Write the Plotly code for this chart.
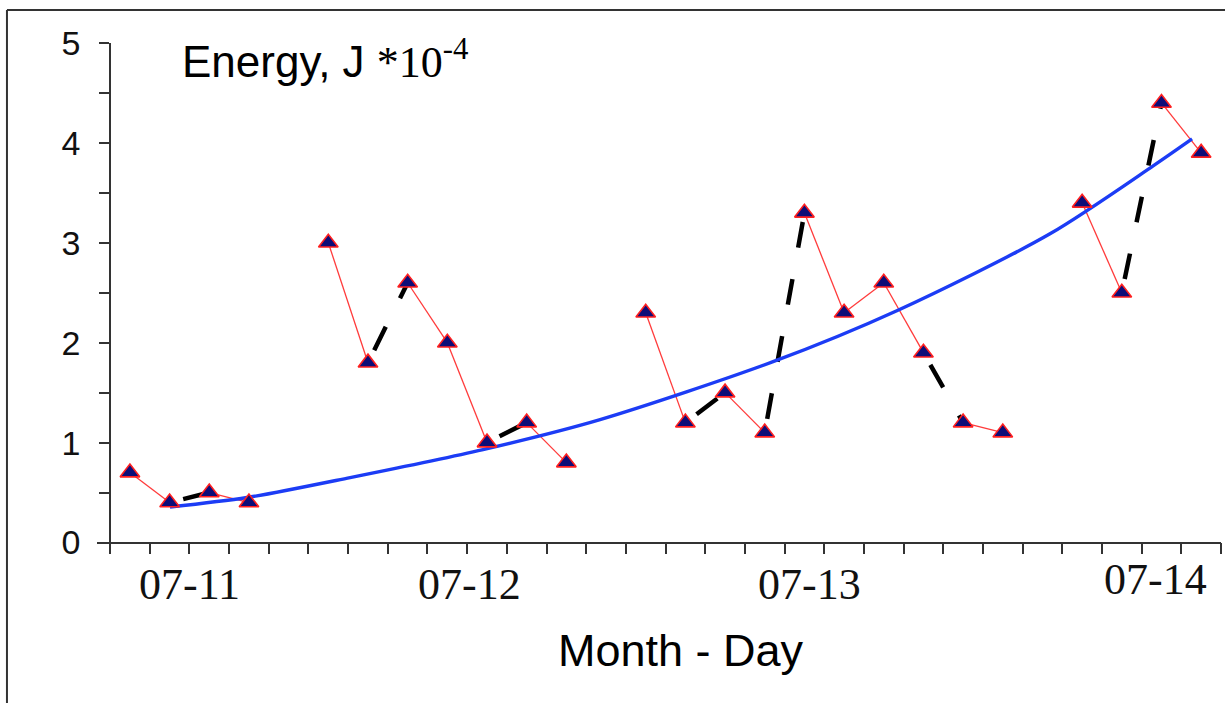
import plotly.graph_objects as go

# ---- data (x in 3-hour slot index along the time axis) ----
slot_x = [0.5, 1.5, 2.5, 3.5, 5.5, 6.5, 7.5, 8.5, 9.5, 10.5, 11.5, 13.5, 14.5,
          15.5, 16.5, 17.5, 18.5, 19.5, 20.5, 21.5, 22.5, 24.5, 25.5, 26.5, 27.5]
energy = [0.7, 0.4, 0.5, 0.4, 3.0, 1.8, 2.6, 2.0, 1.0, 1.2, 0.8, 2.3, 1.2,
          1.5, 1.1, 3.3, 2.3, 2.6, 1.9, 1.2, 1.1, 3.4, 2.5, 4.4, 3.9]
# link style between consecutive points: r = thin red, k = black dashed, - = none
link_style = ["r", "k", "r", "-", "r", "k", "r", "r", "k", "r", "-", "r",
              "k", "r", "k", "r", "r", "r", "k", "r", "-", "r", "k", "r"]
# trend curve
trend_x = [1.51, 3.45, 6.05, 9.40, 12.35, 16.71, 19.83, 23.69, 26.29, 27.27]
trend_y = [0.355, 0.45, 0.65, 0.93, 1.23, 1.81, 2.32, 3.09, 3.77, 4.04]

day_labels = ["07-11", "07-12", "07-13", "07-14"]
day_label_x = [1.99, 9.07, 17.64, 26.36]
day_label_lift = [0.0, 0.0, 0.0, 0.01]
x_ticks = list(range(29))
y_ticks = [0, 1, 2, 3, 4, 5]

SANS = "Liberation Sans, Arial, sans-serif"
SERIF = "Liberation Serif, Times New Roman, serif"


def segments(kind):
    xs, ys = [], []
    for i, s in enumerate(link_style):
        if s == kind:
            xs += [slot_x[i], slot_x[i + 1], None]
            ys += [energy[i], energy[i + 1], None]
    return xs, ys


fig = go.Figure()
rx, ry = segments("r")
fig.add_trace(go.Scatter(x=rx, y=ry, mode="lines",
                         line=dict(color="#ff3b3b", width=1.3),
                         hoverinfo="skip", showlegend=False))
kx, ky = segments("k")
fig.add_trace(go.Scatter(x=kx, y=ky, mode="lines",
                         line=dict(color="black", width=4.5, dash="0px,14px,26px,18px"),
                         hoverinfo="skip", showlegend=False))
fig.add_trace(go.Scatter(x=trend_x, y=trend_y, mode="lines",
                         line=dict(color="#1c3cf5", width=3.4, shape="spline", smoothing=0.8),
                         showlegend=False))
fig.add_trace(go.Scatter(x=slot_x, y=energy, mode="markers",
                         marker=dict(symbol="triangle-up", size=17, color="#0d0d78",
                                     line=dict(color="#ff2020", width=1.6)),
                         showlegend=False))

XR = [-0.33, 28.0]
YR = [-0.075, 5.0]

fig.update_layout(
    width=1225, height=703,
    margin=dict(l=97, r=4, t=43, b=153),
    paper_bgcolor="white", plot_bgcolor="white",
    xaxis=dict(range=XR, showgrid=False, zeroline=False, showline=True,
               linecolor="#333", linewidth=1.8, anchor="free",
               position=(0 - YR[0]) / (YR[1] - YR[0]),
               tickmode="array", tickvals=x_ticks, showticklabels=False,
               ticks="outside", ticklen=11, tickwidth=1.8, tickcolor="#333"),
    yaxis=dict(range=YR, showgrid=False, zeroline=False, showline=True,
               linecolor="#333", linewidth=1.8, anchor="free",
               position=(0 - XR[0]) / (XR[1] - XR[0]),
               tickmode="array", tickvals=y_ticks,
               ticks="outside", ticklen=10, tickwidth=1.8, tickcolor="#333",
               minor=dict(dtick=0.5, tick0=0, ticks="outside", ticklen=10,
                          tickwidth=1.8, tickcolor="#333"),
               tickfont=dict(family=SANS, size=34, color="#111"),
               ticklabelstandoff=12),
)

annotations = []
for lab, lx, lift in zip(day_labels, day_label_x, day_label_lift):
    annotations.append(dict(x=lx, y=-0.069 + lift, xref="x", yref="paper",
                            text=lab, showarrow=False, xanchor="center", yanchor="middle",
                            font=dict(family=SERIF, size=44, color="#111")))
annotations.append(dict(x=0.5196, y=-0.199, xref="paper", yref="paper",
                        text="Month - Day", showarrow=False, xanchor="center",
                        yanchor="middle", font=dict(family=SANS, size=45, color="black")))
annotations.append(dict(x=0.0738, y=0.968, xref="paper", yref="paper",
                        text="Energy, J <span style=\"font-family:Liberation Serif\">*10<sup>-4</sup></span>",
                        showarrow=False, xanchor="left", yanchor="middle",
                        font=dict(family=SANS, size=44, color="black")))
fig.update_layout(annotations=annotations)

# outer frame (top and left edges)
fig.add_shape(type="line", xref="paper", yref="paper", x0=-0.0801, x1=1.01,
              y0=1.065, y1=1.065, line=dict(color="#333", width=2))
fig.add_shape(type="line", xref="paper", yref="paper", x0=-0.0801, x1=-0.0801,
              y0=1.065, y1=-0.32, line=dict(color="#333", width=2))

fig.write_html("out.html", config={"displayModeBar": False},
               post_script="document.body.style.margin='0';")
